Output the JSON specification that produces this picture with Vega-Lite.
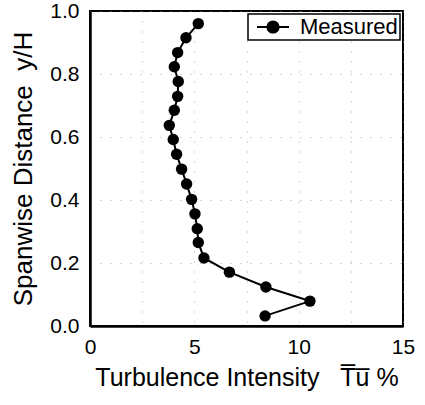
{
  "$schema": "https://vega.github.io/schema/vega-lite/v6.json",
  "width": 313,
  "height": 315,
  "autosize": {"type": "none"},
  "padding": {"left": 90, "top": 11, "right": 22, "bottom": 79},
  "background": "white",
  "config": {
    "font": "Liberation Sans",
    "view": {"stroke": "black", "strokeWidth": 2},
    "legend": {"strokeWidth": 1.5},
    "axis": {
      "labelFont": "Liberation Sans",
      "titleFont": "Liberation Sans",
      "labelColor": "black",
      "titleColor": "black",
      "labelFontSize": 21,
      "titleFontSize": 25,
      "titleFontWeight": "normal",
      "ticks": false,
      "domainColor": "black",
      "domainWidth": 2.5,
      "gridColor": "#999",
      "gridDash": [1, 9],
      "gridWidth": 1,
      "gridOpacity": 0.8
    }
  },
  "data": {
    "values": [
      {"tu": 8.39, "yh": 0.032, "series": "Measured"},
      {"tu": 10.54, "yh": 0.079, "series": "Measured"},
      {"tu": 8.43, "yh": 0.124, "series": "Measured"},
      {"tu": 6.68, "yh": 0.171, "series": "Measured"},
      {"tu": 5.46, "yh": 0.216, "series": "Measured"},
      {"tu": 5.19, "yh": 0.265, "series": "Measured"},
      {"tu": 5.14, "yh": 0.309, "series": "Measured"},
      {"tu": 5.03, "yh": 0.356, "series": "Measured"},
      {"tu": 4.87, "yh": 0.402, "series": "Measured"},
      {"tu": 4.63, "yh": 0.451, "series": "Measured"},
      {"tu": 4.39, "yh": 0.498, "series": "Measured"},
      {"tu": 4.15, "yh": 0.545, "series": "Measured"},
      {"tu": 3.99, "yh": 0.592, "series": "Measured"},
      {"tu": 3.80, "yh": 0.637, "series": "Measured"},
      {"tu": 4.04, "yh": 0.685, "series": "Measured"},
      {"tu": 4.20, "yh": 0.729, "series": "Measured"},
      {"tu": 4.23, "yh": 0.776, "series": "Measured"},
      {"tu": 4.04, "yh": 0.823, "series": "Measured"},
      {"tu": 4.20, "yh": 0.868, "series": "Measured"},
      {"tu": 4.60, "yh": 0.915, "series": "Measured"},
      {"tu": 5.19, "yh": 0.960, "series": "Measured"}
    ]
  },
  "encoding": {
    "x": {
      "field": "tu",
      "type": "quantitative",
      "scale": {"domain": [0, 15], "nice": false, "zero": false},
      "axis": {
        "title": "Turbulence Intensity\u00a0\u00a0\u00a0T\u0305u\u0305\u00a0%",
        "values": [0, 2.5, 5, 7.5, 10, 12.5, 15],
        "labelExpr": "datum.value % 5 === 0 ? datum.label : ''",
        "labelPadding": 10,
        "titlePadding": 8,
        "labelFlush": false
      }
    },
    "y": {
      "field": "yh",
      "type": "quantitative",
      "scale": {"domain": [0, 1], "nice": false},
      "axis": {
        "title": "Spanwise Distance\u00a0\u00a0y/H",
        "titleFontSize": 26,
        "values": [0, 0.2, 0.4, 0.6, 0.8, 1.0],
        "format": ".1f",
        "labelPadding": 11,
        "titlePadding": 13,
        "labelFlush": false
      }
    },
    "order": {"field": "yh", "type": "quantitative"},
    "color": {
      "field": "series",
      "type": "nominal",
      "scale": {"range": ["black"]},
      "legend": {
        "title": null,
        "orient": "top-right",
        "offset": 3,
        "strokeColor": "black",
        "fillColor": "white",
        "padding": 2,
        "labelFontSize": 22,
        "labelFont": "Liberation Sans",
        "labelColor": "black",
        "labelExpr": "datum.label + '\u00a0'",
        "labelOffset": 16,
        "symbolOffset": 12,
        "symbolType": "M -2 0 L 2 0 M -0.7 0 A 0.7 0.7 0 1 0 0.7 0 A 0.7 0.7 0 1 0 -0.7 0 Z",
        "symbolSize": 256,
        "symbolStrokeWidth": 2,
        "symbolFillColor": "black",
        "symbolStrokeColor": "black",
        "symbolOpacity": 1
      }
    }
  },
  "layer": [
    {"mark": {"type": "line", "strokeWidth": 2}},
    {"mark": {"type": "point", "filled": true, "size": 130, "opacity": 1}}
  ]
}
